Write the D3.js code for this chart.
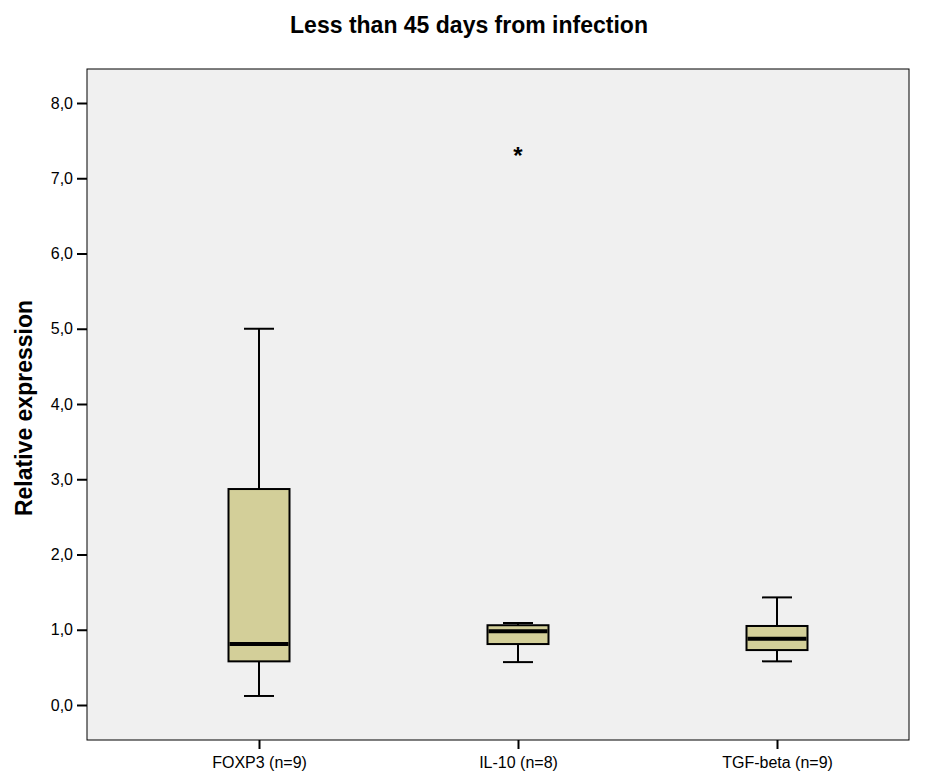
<!DOCTYPE html>
<html>
<head>
<meta charset="utf-8">
<script src="https://cdn.jsdelivr.net/npm/d3@7"></script>
<style>
  html, body { margin: 0; padding: 0; background: #fff; }
  svg { display: block; font-family: Arial, "Liberation Sans", sans-serif; }
</style>
</head>
<body>
<svg id="chart" width="937" height="773"></svg>
<script>
// Box plot data: relative expression per marker
const categories = ["FOXP3 (n=9)", "IL-10 (n=8)", "TGF-beta (n=9)"];
const whiskerLow  = [0.12, 0.57, 0.58];
const q1          = [0.58, 0.81, 0.73];
const medians     = [0.81, 0.98, 0.88];
const q3          = [2.87, 1.06, 1.05];
const whiskerHigh = [5.00, 1.09, 1.43];
// Extreme values (drawn as asterisks): [category index, value]
const extremes = [[1, 7.33]];
const yTicks = [0, 1, 2, 3, 4, 5, 6, 7, 8];

const svg = d3.select("#chart");
const frame = { left: 87, right: 909, top: 69, bottom: 740 };

const y = d3.scaleLinear().domain([0, 8]).range([705, 103]);
const x = d3.scalePoint().domain(categories).range([259, 777]);

// plot area
svg.append("rect")
  .attr("x", frame.left).attr("y", frame.top)
  .attr("width", frame.right - frame.left).attr("height", frame.bottom - frame.top)
  .attr("fill", "#f0f0f0").attr("stroke", "#000").attr("stroke-width", 1);

// title
svg.append("text")
  .attr("x", 469).attr("y", 33)
  .attr("text-anchor", "middle")
  .attr("font-size", 23).attr("font-weight", "bold")
  .text("Less than 45 days from infection");

// y axis
const yAxis = d3.axisLeft(y).tickValues(yTicks).tickSize(10).tickPadding(4)
  .tickFormat(d => d3.format(".1f")(d).replace(".", ","));
const gy = svg.append("g").attr("transform", `translate(${frame.left},0)`).call(yAxis);
gy.select(".domain").remove();
gy.selectAll(".tick line").attr("stroke", "#000").attr("stroke-width", 2);
gy.selectAll(".tick text").attr("font-size", 16).attr("fill", "#000")
  .attr("font-family", "Arial, 'Liberation Sans', sans-serif");

svg.append("text")
  .attr("transform", "translate(32,408) rotate(-90)")
  .attr("text-anchor", "middle")
  .attr("font-size", 23).attr("font-weight", "bold")
  .text("Relative expression");

// x axis
const xAxis = d3.axisBottom(x).tickSize(9).tickPadding(8);
const gx = svg.append("g").attr("transform", `translate(0,${frame.bottom})`).call(xAxis);
gx.select(".domain").remove();
gx.selectAll(".tick line").attr("stroke", "#000").attr("stroke-width", 2);
gx.selectAll(".tick text").attr("font-size", 16).attr("fill", "#000")
  .attr("font-family", "Arial, 'Liberation Sans', sans-serif");

// boxes
const boxW = 61, capW = 30;
const boxes = svg.append("g").selectAll("g")
  .data(categories.map((c, i) => ({ c, lo: whiskerLow[i], q1: q1[i], med: medians[i], q3: q3[i], hi: whiskerHigh[i] })))
  .join("g");

boxes.append("line")
  .attr("x1", d => x(d.c)).attr("x2", d => x(d.c))
  .attr("y1", d => y(d.hi)).attr("y2", d => y(d.q3))
  .attr("stroke", "#000").attr("stroke-width", 2);
boxes.append("line")
  .attr("x1", d => x(d.c)).attr("x2", d => x(d.c))
  .attr("y1", d => y(d.q1)).attr("y2", d => y(d.lo))
  .attr("stroke", "#000").attr("stroke-width", 2);
boxes.append("line")
  .attr("x1", d => x(d.c) - capW / 2).attr("x2", d => x(d.c) + capW / 2)
  .attr("y1", d => y(d.hi)).attr("y2", d => y(d.hi))
  .attr("stroke", "#000").attr("stroke-width", 2);
boxes.append("line")
  .attr("x1", d => x(d.c) - capW / 2).attr("x2", d => x(d.c) + capW / 2)
  .attr("y1", d => y(d.lo)).attr("y2", d => y(d.lo))
  .attr("stroke", "#000").attr("stroke-width", 2);
boxes.append("rect")
  .attr("x", d => x(d.c) - boxW / 2).attr("width", boxW)
  .attr("y", d => y(d.q3)).attr("height", d => y(d.q1) - y(d.q3))
  .attr("fill", "#d3cf99").attr("stroke", "#000").attr("stroke-width", 2);
boxes.append("line")
  .attr("x1", d => x(d.c) - boxW / 2 + 1).attr("x2", d => x(d.c) + boxW / 2 - 1)
  .attr("y1", d => y(d.med)).attr("y2", d => y(d.med))
  .attr("stroke", "#000").attr("stroke-width", 4);

// extreme values
svg.append("g").selectAll("text")
  .data(extremes)
  .join("text")
  .attr("x", d => x(categories[d[0]]))
  .attr("y", d => y(d[1]) + 11)
  .attr("text-anchor", "middle")
  .attr("font-size", 24).attr("font-weight", "bold")
  .text("*");
</script>
</body>
</html>
